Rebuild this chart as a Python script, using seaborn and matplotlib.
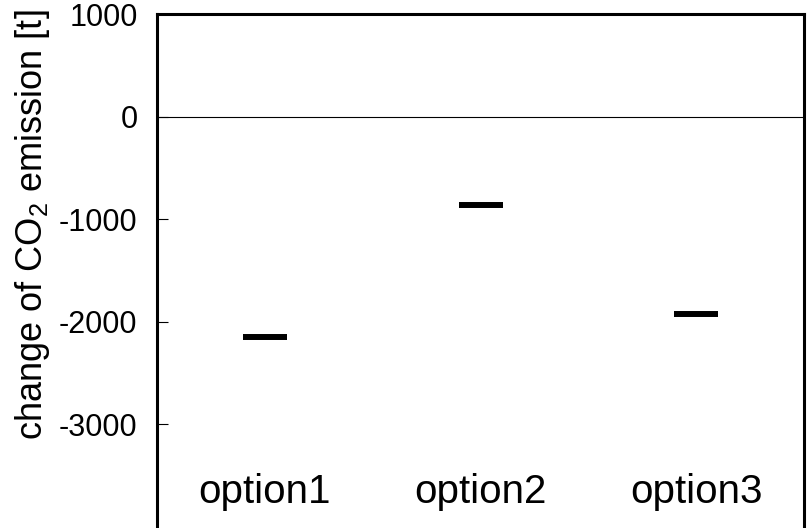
import matplotlib
matplotlib.use("Agg")
import matplotlib.pyplot as plt
import seaborn as sns
import pandas as pd

categories = ["option1", "option2", "option3"]
values = [-2155, -868, -1922]
yticks = [1000, 0, -1000, -2000, -3000]
ylabel = r"change of CO$_2$ emission [t]"

sns.set_theme(style="white")
plt.rcParams["font.family"] = ["Liberation Sans", "DejaVu Sans"]
plt.rcParams["mathtext.fontset"] = "custom"
plt.rcParams["mathtext.rm"] = "Liberation Sans"
plt.rcParams["mathtext.it"] = "Liberation Sans:italic"
plt.rcParams["mathtext.bf"] = "Liberation Sans:bold"
for k in ["text.color", "axes.labelcolor", "xtick.color", "ytick.color", "axes.edgecolor"]:
    plt.rcParams[k] = "black"

df = pd.DataFrame({"option": categories, "value": values})

fig = plt.figure(figsize=(8.08, 5.28), dpi=100)
ax_h = 522.75 / 528
ax = fig.add_axes([157 / 808, (528 - 536.75) / 528, (804 - 157) / 808, ax_h])

sns.scatterplot(data=df, x="option", y="value", marker="_", s=1000,
                linewidth=4.3, color="black", edgecolor="black", ax=ax, legend=False)

ax.axhline(0, color="black", linewidth=0.8, zorder=1)
ax.set_xlim(-0.5, 2.5)
ax.set_ylim(-4100, 1000)
ax.set_yticks(yticks)
ax.set_yticklabels([str(t) for t in yticks])
ax.set_xticks(range(len(categories)))
ax.set_xticklabels(categories)
ax.set_xlabel("")
ax.set_ylabel(ylabel, fontsize=26)
ax.yaxis.set_label_coords(-0.163, 0.596)

ax.tick_params(axis="y", direction="in", length=8, width=0.8, color="black",
               labelsize=22, pad=14, left=True, labelcolor="black")
ax.tick_params(axis="x", direction="in", length=0, labelsize=29, pad=-46, bottom=True,
               labelcolor="black")

for s in ax.spines.values():
    s.set_linewidth(2.2)
    s.set_color("black")
ax.spines["bottom"].set_visible(False)

fig.savefig("out.png", dpi=100)
